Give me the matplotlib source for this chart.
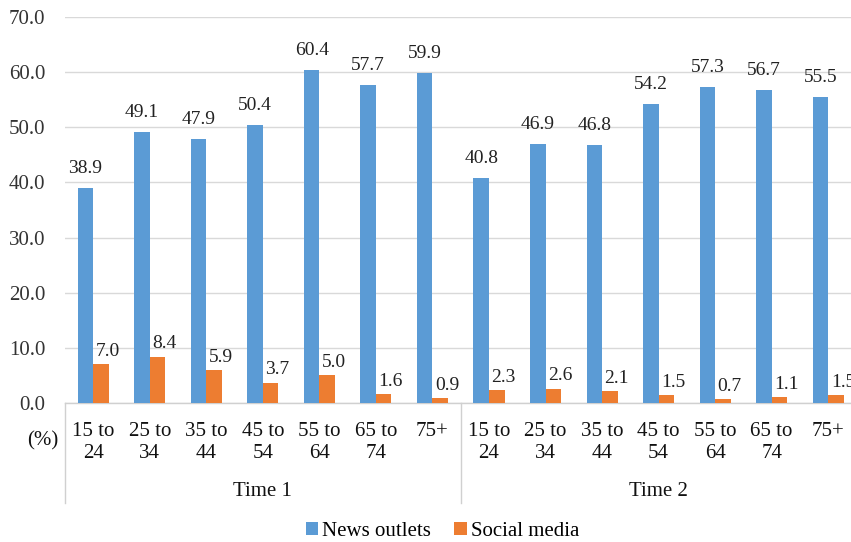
import matplotlib
matplotlib.use("Agg")
import matplotlib.pyplot as plt
import numpy as np

age_groups = ["15 to\n24", "25 to\n34", "35 to\n44", "45 to\n54", "55 to\n64", "65 to\n74", "75+"]
periods = ["Time 1", "Time 2"]
news_outlets = [38.9, 49.1, 47.9, 50.4, 60.4, 57.7, 59.9,
                40.8, 46.9, 46.8, 54.2, 57.3, 56.7, 55.5]
social_media = [7.0, 8.4, 5.9, 3.7, 5.0, 1.6, 0.9,
                2.3, 2.6, 2.1, 1.5, 0.7, 1.1, 1.5]

plt.rcParams["font.family"] = ["Liberation Serif", "DejaVu Serif"]

blue = "#5B9BD5"
orange = "#ED7D31"

fig = plt.figure(figsize=(8.51, 5.42), dpi=100)
ax = fig.add_axes([0.0764, 0.2565, 0.93, 0.7121])

n = len(news_outlets)
x = np.arange(n)
w = 0.275
b1 = ax.bar(x - w / 2, news_outlets, w, color=blue, label="News outlets", zorder=3)
b2 = ax.bar(x + w / 2, social_media, w, color=orange, label="Social media", zorder=3)

for rect, v in zip(b1, news_outlets):
    ax.annotate(f"{v:.1f}", (rect.get_x() + rect.get_width() / 2, v),
                xytext=(0, 8), textcoords="offset points",
                ha="center", va="bottom", fontsize=14, color="#222222")
for rect, v in zip(b2, social_media):
    ax.annotate(f"{v:.1f}", (rect.get_x() + rect.get_width() / 2, v),
                xytext=(5, 3), textcoords="offset points",
                ha="center", va="bottom", fontsize=14, color="#222222")

ax.set_xlim(-0.5, n - 0.5)
ax.set_ylim(0, 70)
ax.set_yticks(np.arange(0, 71, 10))
ax.set_yticklabels([f"{t:.1f}" for t in np.arange(0, 71, 10)], fontsize=15, color="#333333")
ax.yaxis.grid(True, color="#d9d9d9", linewidth=1, zorder=0)
ax.set_axisbelow(True)
ax.tick_params(axis="y", length=0, pad=14)

ax.set_xticks(x)
ax.set_xticklabels(age_groups * len(periods), fontsize=15, color="#111111", linespacing=1.2)
ax.tick_params(axis="x", length=0, pad=14)

for s in ["top", "right", "left"]:
    ax.spines[s].set_visible(False)
ax.spines["bottom"].set_color("#d0d0d0")
ax.spines["bottom"].set_linewidth(1)

# group separators and group labels below the category labels
k = len(age_groups)
trans = ax.get_xaxis_transform()
for g in range(len(periods) + 1):
    xs = g * k - 0.5
    ax.plot([xs, xs], [0, -0.259], transform=trans, color="#d0d0d0",
            linewidth=1, clip_on=False)
for g, name in enumerate(periods):
    ax.text(g * k + (k - 1) / 2, -0.23, name, transform=trans,
            ha="center", va="center", fontsize=15, color="#111111")

fig.text(43 / 851, 1 - 441 / 542, "(%)", ha="center", va="center",
         fontsize=15, color="#111111")

fig.legend(handles=[b1, b2], labels=["News outlets", "Social media"],
           loc="center", bbox_to_anchor=(0.52, 1 - 531 / 542), ncol=2,
           frameon=False, fontsize=15, handlelength=0.6, handleheight=0.6,
           handletextpad=0.2, columnspacing=1.1)

fig.savefig("out.png", dpi=100)
